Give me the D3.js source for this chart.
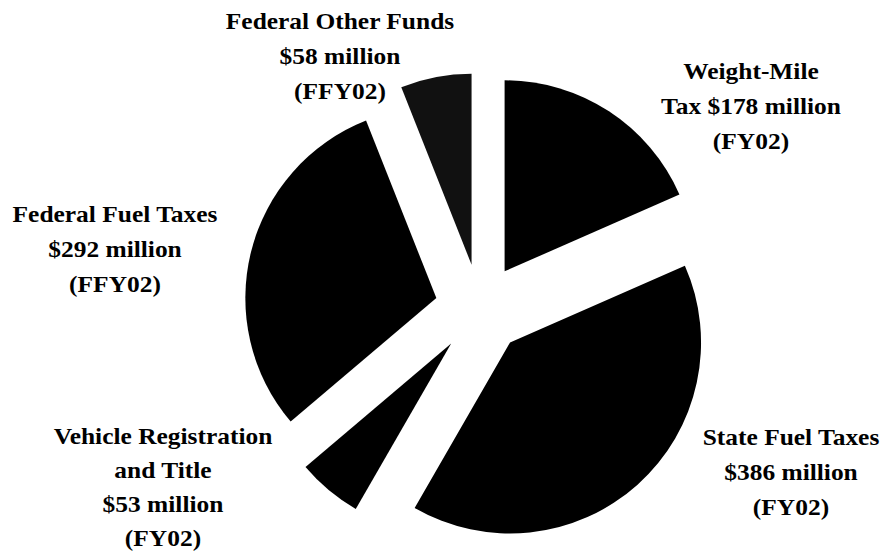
<!DOCTYPE html>
<html>
<head>
<meta charset="utf-8">
<script src="https://cdn.jsdelivr.net/npm/d3@7"></script>
<style>
	body { margin: 0; background: #fff; }
	svg text { font-family: "Liberation Serif", "Times New Roman", serif; font-weight: bold; font-size: 24px; fill: #000; }
</style>
</head>
<body>
<svg id="svg_pie" width="886" height="553"></svg>
<script>
var names = ["Weight-Mile Tax", "State Fuel Taxes", "Vehicle Registration and Title", "Federal Fuel Taxes", "Federal Other Funds"];
var values = [178, 386, 53, 292, 58];
var fills = ["#000", "#000", "#000", "#000", "#111"];
var labelLines = [
	["Weight-Mile", "Tax $178 million", "(FY02)"],
	["State Fuel Taxes", "$386 million", "(FY02)"],
	["Vehicle Registration", "and Title", "$53 million", "(FY02)"],
	["Federal Fuel Taxes", "$292 million", "(FFY02)"],
	["Federal Other Funds", "$58 million", "(FFY02)"]
];
var labelPos = [[751, 79], [791, 445], [163, 444], [115, 222], [340, 29]];
var lineGap = [35, 35, 34, 35, 35];

function drawPie() {
	var svg = d3.select("#svg_pie"),
		cx = 480, cy = 309,
		radius = 191, explode = 45;

	var pie = d3.pie()
		.sort(null)
		.startAngle(0)
		.endAngle(2 * Math.PI);
	var arc = d3.arc()
		.innerRadius(0)
		.outerRadius(radius);
	var arcs = pie(values);

	var g_pie = svg.append("g")
		.attr("transform", "translate(" + cx + "," + cy + ")");
	g_pie.selectAll("path")
		.data(arcs)
		.enter()
		.append("path")
		.attr("fill", function(d, i) { return fills[i]; })
		.attr("transform", function(d) {
			var a = (d.startAngle + d.endAngle) / 2;
			return "translate(" + (explode * Math.sin(a)) + "," + (-explode * Math.cos(a)) + ")";
		})
		.attr("d", arc);

	/*
	labels
	*/
	var g_lab = svg.append("g").attr("class", "labels");
	labelLines.forEach(function(lines, i) {
		var t = g_lab.append("text")
			.attr("text-anchor", "middle")
			.attr("transform", "translate(" + labelPos[i][0] + "," + labelPos[i][1] + ") scale(1.06,1)");
		t.selectAll("tspan")
			.data(lines).enter()
			.append("tspan")
			.attr("x", 0)
			.attr("y", function(d, j) { return j * lineGap[i]; })
			.text(function(d) { return d; });
	});
}
drawPie();
</script>
</body>
</html>
